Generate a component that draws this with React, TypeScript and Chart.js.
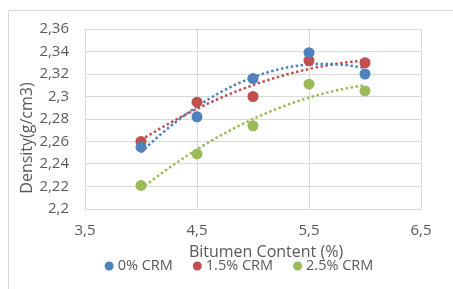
import React, { useEffect, useRef } from "react";
import { Chart, registerables } from "chart.js";

Chart.register(...registerables);

const bitumen = [4, 4.5, 5, 5.5, 6];
const crm0 = [2.255, 2.282, 2.316, 2.339, 2.32];
const crm15 = [2.26, 2.295, 2.3, 2.332, 2.33];
const crm25 = [2.221, 2.249, 2.274, 2.311, 2.305];
const seriesNames = ["0% CRM", "1.5% CRM", "2.5% CRM"];
const seriesColors = ["#4F81BD", "#C0504D", "#9BBB59"];
const xTicks = [3.5, 4.5, 5.5, 6.5];
const yTicks = [2.2, 2.22, 2.24, 2.26, 2.28, 2.3, 2.32, 2.34, 2.36];
const xTitle = "Bitumen Content (%)";
const yTitle = "Density(g/cm3)";

const FONT = "'Open Sans', sans-serif";
const TEXT = "#595959";
const GRID = "#D9D9D9";

function fmt(v: number): string {
  return String(Number(v.toFixed(3))).replace(".", ",");
}

// least-squares quadratic (Excel polynomial order-2 trendline)
function quadFit(xs: number[], ys: number[]) {
  let s0 = 0, s1 = 0, s2 = 0, s3 = 0, s4 = 0, t0 = 0, t1 = 0, t2 = 0;
  xs.forEach((x, i) => {
    const y = ys[i];
    s0 += 1; s1 += x; s2 += x * x; s3 += x * x * x; s4 += x * x * x * x;
    t0 += y; t1 += x * y; t2 += x * x * y;
  });
  const m = [
    [s0, s1, s2, t0],
    [s1, s2, s3, t1],
    [s2, s3, s4, t2],
  ];
  for (let i = 0; i < 3; i++) {
    let p = i;
    for (let r = i + 1; r < 3; r++) if (Math.abs(m[r][i]) > Math.abs(m[p][i])) p = r;
    [m[i], m[p]] = [m[p], m[i]];
    for (let r = 0; r < 3; r++) {
      if (r === i) continue;
      const f = m[r][i] / m[i][i];
      for (let c = i; c < 4; c++) m[r][c] -= f * m[i][c];
    }
  }
  const a = m[0][3] / m[0][0], b = m[1][3] / m[1][1], c = m[2][3] / m[2][2];
  return (x: number) => a + b * x + c * x * x;
}

function trendPoints(ys: number[]) {
  const f = quadFit(bitumen, ys);
  const pts: { x: number; y: number }[] = [];
  const x0 = bitumen[0], x1 = bitumen[bitumen.length - 1];
  const n = 40;
  for (let i = 0; i <= n; i++) {
    const x = x0 + ((x1 - x0) * i) / n;
    pts.push({ x, y: f(x) });
  }
  return pts;
}

const decorPlugin = {
  id: "decor",
  beforeDraw(chart: any) {
    const ctx = chart.ctx;
    ctx.save();
    ctx.strokeStyle = GRID;
    ctx.lineWidth = 1;
    ctx.beginPath();
    ctx.moveTo(8.5, 400);
    ctx.lineTo(8.5, 10.5);
    ctx.lineTo(460, 10.5);
    ctx.stroke();
    ctx.restore();
  },
  afterDraw(chart: any) {
    const ctx = chart.ctx;
    ctx.save();
    ctx.fillStyle = TEXT;
    // y title
    ctx.font = `16px ${FONT}`;
    ctx.textAlign = "center";
    ctx.textBaseline = "middle";
    ctx.translate(27, 138);
    ctx.rotate(-Math.PI / 2);
    ctx.fillText(yTitle, 0, 0);
    ctx.setTransform(1, 0, 0, 1, 0, 0);
    // x title
    ctx.font = `16px ${FONT}`;
    ctx.fillText(xTitle, 266, 252);
    // legend
    ctx.font = `14.5px ${FONT}`;
    const r = 4.5;
    const gapDotText = 4;
    const gapItems = 20;
    const widths = seriesNames.map((s) => ctx.measureText(s).width);
    const itemW = widths.map((w) => 2 * r + gapDotText + w);
    const total = itemW.reduce((a, b) => a + b, 0) + gapItems * (itemW.length - 1);
    let x = 239 - total / 2;
    const y = 266;
    ctx.textAlign = "left";
    seriesNames.forEach((s, i) => {
      ctx.fillStyle = seriesColors[i];
      ctx.beginPath();
      ctx.arc(x + r, y, r, 0, Math.PI * 2);
      ctx.fill();
      ctx.fillStyle = TEXT;
      ctx.fillText(s, x + 2 * r + gapDotText, y);
      x += itemW[i] + gapItems;
    });
    ctx.restore();
  },
};

export default function App() {
  const ref = useRef<HTMLCanvasElement | null>(null);
  useEffect(() => {
    if (!ref.current) return;
    const series = [crm0, crm15, crm25];
    const datasets: any[] = [];
    series.forEach((ys, i) => {
      datasets.push({
        label: seriesNames[i],
        data: bitumen.map((x, j) => ({ x, y: ys[j] })),
        backgroundColor: seriesColors[i],
        borderColor: seriesColors[i],
        pointRadius: 5.5,
        pointBorderWidth: 0,
        showLine: false,
        order: 1,
      });
    });
    series.forEach((ys, i) => {
      datasets.push({
        label: seriesNames[i] + " trend",
        data: trendPoints(ys),
        borderColor: seriesColors[i],
        backgroundColor: seriesColors[i],
        showLine: true,
        pointRadius: 0,
        borderWidth: 2.5,
        borderDash: [2.5, 2.5],
        tension: 0,
        order: 2,
      });
    });
    const chart = new Chart(ref.current, {
      type: "scatter",
      data: { datasets },
      plugins: [decorPlugin],
      options: {
        animation: false,
        responsive: false,
        events: [],
        layout: { padding: { left: 0, top: 29, right: 32, bottom: 40 } },
        plugins: { legend: { display: false }, tooltip: { enabled: false } },
        scales: {
          x: {
            type: "linear",
            min: 3.5,
            max: 6.5,
            afterBuildTicks: (s: any) => {
              s.ticks = xTicks.map((v) => ({ value: v }));
            },
            afterFit: (s: any) => {
              s.height = 40;
            },
            grid: { color: GRID, lineWidth: 1, drawTicks: false },
            border: { color: GRID, width: 1 },
            ticks: {
              padding: 13,
              color: TEXT,
              font: { family: FONT, size: 15 },
              callback: (v: any) => fmt(Number(v)),
            },
          },
          y: {
            type: "linear",
            min: 2.2,
            max: 2.36,
            afterBuildTicks: (s: any) => {
              s.ticks = yTicks.map((v) => ({ value: v }));
            },
            afterFit: (s: any) => {
              s.width = 85;
            },
            grid: { color: GRID, lineWidth: 1, drawTicks: false },
            border: { color: GRID, width: 1 },
            ticks: {
              padding: 16,
              color: TEXT,
              font: { family: FONT, size: 15 },
              callback: (v: any) => fmt(Number(v)),
            },
          },
        },
      },
    });
    return () => chart.destroy();
  }, []);
  return (
    <div style={{ position: "fixed", left: 0, top: 0, width: 453, height: 289, background: "#fff" }}>
      <canvas ref={ref} width={453} height={289} style={{ display: "block", width: 453, height: 289 }} />
    </div>
  );
}
